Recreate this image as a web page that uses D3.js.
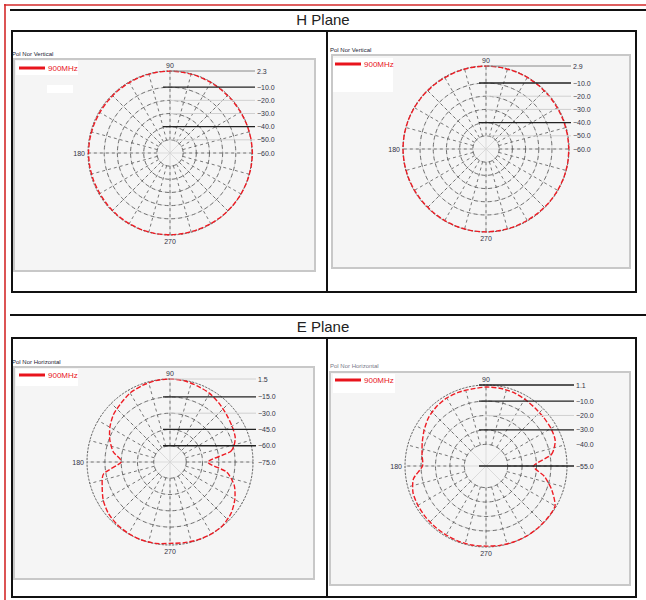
<!DOCTYPE html>
<html><head><meta charset="utf-8">
<script src="https://cdn.jsdelivr.net/npm/d3@7"></script>
<style>html,body{margin:0;padding:0;background:#fff;} svg{display:block;font-family:"Liberation Sans",Arial,sans-serif;}</style>
</head><body><svg id="c" width="646" height="600"></svg>
<script>
// ---------------- DATA ----------------
const angles = [0,10,20,30,40,50,60,70,80,90,100,110,120,130,140,150,160,170,180,190,200,210,220,230,240,250,260,270,280,290,300,310,320,330,340,350];
const hLeftValues  = [2.6,2.4,2.2,2.0,1.9,1.8,1.9,2.0,2.1,2.2,2.1,2.0,1.8,1.7,1.6,1.6,1.7,1.8,1.9,1.8,1.7,1.6,1.7,1.9,2.0,2.1,2.2,2.1,2.0,1.9,2.0,2.1,2.2,2.3,2.4,2.5];
const hRightValues = [2.7,2.6,2.5,2.4,2.4,2.5,2.6,2.7,2.8,2.8,2.7,2.6,2.5,2.5,2.6,2.7,2.8,2.9,2.9,2.8,2.7,2.6,2.5,2.5,2.6,2.7,2.8,2.8,2.7,2.6,2.5,2.5,2.6,2.7,2.8,2.8];
const eLeftValues  = [-40,-18,-11,-9,-7,-4.5,-2,-0.5,1,1.5,1.2,0,-1.5,-4.5,-7,-11,-16,-22,-30,-13,-8.5,-4,-1,0.5,1.2,1.5,1.2,0,0.5,1.2,1.5,1,-1.5,-6,-12,-22];
const eRightValues = [-22,-9,-4,-3,-2.8,-2.4,-1.5,-0.6,-0.3,-0.3,-0.8,-0.5,-0.6,-1.5,-3,-5.5,-8,-10,-11,-4,-1.2,-0.5,-0.2,0,0.2,0.5,0.6,0.5,0.8,1.0,1.1,1.0,0.8,0.2,-6.5,-14];
const hLeftTicks  = [2.3,-10,-20,-30,-40,-50,-60];
const hRightTicks = [2.9,-10,-20,-30,-40,-50,-60];
const eLeftTicks  = [1.5,-15,-30,-45,-60,-75];
const eRightTicks = [1.1,-10,-20,-30,-40,-55];
const angleLabels = ["90","180","270"];
const sectionTitles = ["H Plane","E Plane"];
const chartTitles = ["Pol Nor Vertical","Pol Nor Vertical","Pol Nor Horizontal","Pol Nor Horizontal"];
const seriesName = "900MHz";

// ---------------- LAYOUT ----------------
const svg = d3.select("#c");
const fmt = d3.format(".1f");

// page frame (red)
svg.append("line").attr("x1",4).attr("x2",646).attr("y1",5).attr("y2",5).attr("stroke","#d42a2a").attr("stroke-width",1.6);
svg.append("line").attr("x1",5).attr("x2",5).attr("y1",4).attr("y2",600).attr("stroke","#d42a2a").attr("stroke-width",1.6);

// section headers & boxes
const sections = [
  {lineY:10, titleY:25, box:{x:12,y:31,w:624,h:261}},
  {lineY:315, titleY:332, box:{x:12,y:338,w:624,h:259}}
];
sections.forEach((s,i)=>{
  svg.append("line").attr("x1",10).attr("x2",646).attr("y1",s.lineY).attr("y2",s.lineY).attr("stroke","#111").attr("stroke-width",2);
  svg.append("text").attr("x",323).attr("y",s.titleY).attr("text-anchor","middle").attr("font-size",15).attr("fill","#222").text(sectionTitles[i]);
  svg.append("rect").attr("x",s.box.x).attr("y",s.box.y).attr("width",s.box.w).attr("height",s.box.h).attr("fill","none").attr("stroke","#111").attr("stroke-width",2);
  svg.append("line").attr("x1",327).attr("x2",327).attr("y1",s.box.y).attr("y2",s.box.y+s.box.h).attr("stroke","#111").attr("stroke-width",2);
});

const panels = [
  {area:{x:14,y:59,w:301,h:212}, titleX:12, titleY:56, titleColor:"#223", cx:170, cy:153, R:82, ticks:hLeftTicks, values:hLeftValues, labelX:257,
   leader:["g","d","l","l","d","l","n"], legend:{x:19,y:68,bx:16,by:61,bw:62,bh:14}, extra:{x:47,y:85,w:26,h:8}},
  {area:{x:332,y:55,w:298,h:213}, titleX:330, titleY:52, titleColor:"#223", cx:486, cy:149, R:83, ticks:hRightTicks, values:hRightValues, labelX:573,
   leader:["g","d","l","l","d","l","n"], legend:{x:335,y:64,bx:333,by:58,bw:60,bh:34}, extra:null},
  {area:{x:14,y:367,w:300,h:212}, titleX:12, titleY:364, titleColor:"#223", cx:170, cy:462, R:83, ticks:eLeftTicks, values:eLeftValues, labelX:258,
   leader:["l","d","l","d","d","n"], legend:{x:19,y:375,bx:16,by:369,bw:62,bh:17}, extra:null},
  {area:{x:330,y:372,w:300,h:213}, titleX:330, titleY:368, titleColor:"#778", cx:486, cy:466, R:81, ticks:eRightTicks, values:eRightValues, labelX:576,
   leader:["d","d","l","d","n","d"], legend:{x:335,y:380,bx:333,by:374,bw:62,bh:19}, extra:null}
];

const leaderColor = {g:"#888", d:"#222", l:"#d0d0d0"};

panels.forEach((p,pi)=>{
  const g = svg.append("g");
  g.append("text").attr("x",p.titleX).attr("y",p.titleY).attr("font-size",6).attr("fill",p.titleColor).text(chartTitles[pi]);
  g.append("rect").attr("x",p.area.x).attr("y",p.area.y).attr("width",p.area.w).attr("height",p.area.h)
    .attr("fill","#f5f5f5").attr("stroke","#c8c8c8").attr("stroke-width",2);
  // legend
  g.append("rect").attr("x",p.legend.bx).attr("y",p.legend.by).attr("width",p.legend.bw).attr("height",p.legend.bh).attr("fill","#fff");
  if (p.extra) g.append("rect").attr("x",p.extra.x).attr("y",p.extra.y).attr("width",p.extra.w).attr("height",p.extra.h).attr("fill","#fff");
  g.append("line").attr("x1",p.legend.x).attr("x2",p.legend.x+26).attr("y1",p.legend.y).attr("y2",p.legend.y).attr("stroke","#e8141c").attr("stroke-width",3);
  g.append("text").attr("x",p.legend.x+29).attr("y",p.legend.y+3).attr("font-size",8).attr("fill","#e8141c").text(seriesName);

  const tmax = d3.max(p.ticks), tmin = d3.min(p.ticks);
  const r = d3.scaleLinear().domain([tmin,tmax]).range([0,p.R]);
  const pg = g.append("g").attr("transform",`translate(${p.cx},${p.cy})`);
  const rInner = r(p.ticks[p.ticks.length-2]);

  // light solid axes
  [0,45,90,135,180,225,270,315].forEach(a=>{
    const t = a*Math.PI/180;
    pg.append("line").attr("x1",0).attr("y1",0).attr("x2",p.R*Math.cos(t)).attr("y2",-p.R*Math.sin(t))
      .attr("stroke","#d4d4d4").attr("stroke-width",0.8);
  });
  // light solid rings
  p.ticks.slice(0,-1).forEach(t=>{
    pg.append("circle").attr("r",r(t)).attr("fill","none").attr("stroke","#d8d8d8").attr("stroke-width",0.8);
  });
  // dashed spokes
  d3.range(0,360,15).forEach(a=>{
    const t = a*Math.PI/180;
    pg.append("line").attr("x1",rInner*Math.cos(t)).attr("y1",-rInner*Math.sin(t))
      .attr("x2",p.R*Math.cos(t)).attr("y2",-p.R*Math.sin(t))
      .attr("stroke","#555").attr("stroke-width",0.8).attr("stroke-dasharray","3,3");
  });
  // dashed rings
  p.ticks.slice(0,-1).forEach((t,i)=>{
    pg.append("circle").attr("r",r(t)).attr("fill","none").attr("stroke","#555")
      .attr("stroke-width", i===0?0.9:0.8).attr("stroke-dasharray", i===0?"2,1.5":"4,3");
  });

  // leader lines and radial labels
  p.ticks.forEach((t,i)=>{
    const y = p.cy - r(t);
    const st = p.leader[i];
    if (st !== "n") {
      g.append("line").attr("x1", st==="d"? p.cx-7 : p.cx).attr("x2",p.labelX-2).attr("y1",y).attr("y2",y)
        .attr("stroke",leaderColor[st]).attr("stroke-width", st==="d"?1.3:1);
    }
    g.append("text").attr("x",p.labelX).attr("y",y+2.5).attr("font-size",7).attr("fill","#334").text(fmt(t));
  });

  // angle labels
  g.append("text").attr("x",p.cx).attr("y",p.cy-p.R-3).attr("text-anchor","middle").attr("font-size",7).attr("fill","#334").text(angleLabels[0]);
  g.append("text").attr("x",p.cx-p.R-3).attr("y",p.cy+2.5).attr("text-anchor","end").attr("font-size",7).attr("fill","#334").text(angleLabels[1]);
  g.append("text").attr("x",p.cx).attr("y",p.cy+p.R+9).attr("text-anchor","middle").attr("font-size",7).attr("fill","#334").text(angleLabels[2]);

  // trace
  const pts = angles.map((a,i)=>({a, v:p.values[i]}));
  const line = d3.lineRadial()
    .angle(d => (90 - d.a) * Math.PI/180)
    .radius(d => r(d.v))
    .curve(d3.curveCardinalClosed.tension(0.3));
  pg.append("path").datum(pts).attr("d",line).attr("fill","none")
    .attr("stroke","#ee1c24").attr("stroke-width",1.4).attr("stroke-dasharray","5,2");
});
</script>
</body></html>
